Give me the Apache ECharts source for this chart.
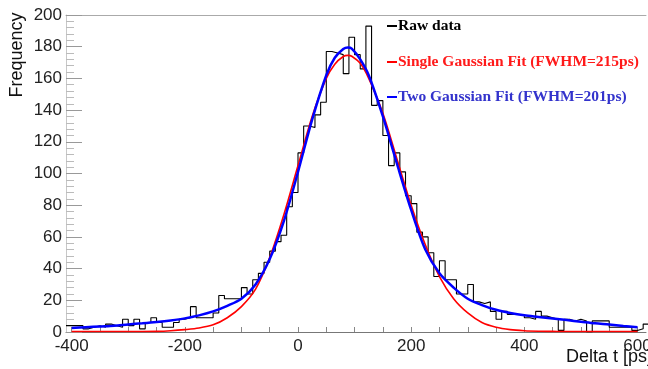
<!DOCTYPE html>
<html><head><meta charset="utf-8">
<script src="https://cdn.jsdelivr.net/npm/echarts@6/dist/echarts.min.js"></script>
<style>html,body{margin:0;padding:0;background:#fff}#c{width:648px;height:369px}</style>
</head><body><div id="c"></div>
<script>
// ---- data ----
const binEdgeStart = -410;
const binWidth = 10;
const histCounts = [
  4,4,4,2,3,4,3,5,4,3,
  8,4,8,2,6,9,6,3,3,6,
  8,9,16,9,9,9,12,23,21,21,
  21,28,24,33,37,44,51,57,61,79,
  88,113,130,129,137,145,177,176,175,163,
  186,175,166,193,143,146,124,105,113,101,
  86,81,63,60,50,35,45,33,33,24,
  24,30,19,18,19,13,8,13,11,11,
  11,9,8,13,10,9,8,1,8,7,
  8,7,0,7,7,7,3,3,3,3,
  1,2,5
];
const fitX = [-400,-375,-350,-325,-300,-275,-250,-225,-200,-175,-150,-125,-100,-75,-50,-25,0,25,50,65,80,88,95,110,125,150,175,200,225,250,275,300,325,350,375,400,425,450,475,500,525,550,575,600];
const singleFit = [0.3,0.3,0.3,0.3,0.3,0.3,0.4,0.8,1.5,2.5,4.5,9,16,27,47,74,105,136,160,169,173.8,174.5,174,169.5,160,138,109,80,55,35,21,12,6,3,1.5,0.8,0.5,0.4,0.3,0.3,0.3,0.3,0.3,0.3];
const doubleFit = [2.5,3,3.5,4,4.8,5.5,6.3,7.3,8.6,10.5,13,16.5,21,30,46,70,101,134,162,173,178.5,179.5,178.8,172,162,136,106,77,52,37,28,21,17,14,12,10.5,9.5,8.5,7.5,6.5,5.5,4.7,3.8,3];
const xLabelValues = [-400,-200,0,200,400,600];
const xTickValues = [-400,-350,-300,-250,-200,-150,-100,-50,0,50,100,150,200,250,300,350,400,450,500,550,600];
const legendLabels = ['Raw data','Single Gaussian Fit (FWHM=215ps)','Two Gaussian Fit (FWHM=201ps)'];
const xTitle = 'Delta t [ps]';
const yTitle = 'Frequency';

// ---- build ----
const histData = histCounts.map((v,i)=>[binEdgeStart + i*binWidth, v]);
histData.push([binEdgeStart + histCounts.length*binWidth, histCounts[histCounts.length-1]]);
const singleData = fitX.map((x,i)=>[x, singleFit[i]]);
const doubleData = fitX.map((x,i)=>[x, doubleFit[i]]);

const chart = echarts.init(document.getElementById('c'), null, {renderer:'canvas'});
const font = '"Liberation Sans", Arial, Helvetica, sans-serif';
const serif = '"Liberation Serif", "Times New Roman", serif';
const legendColors = ['#000000','#ff1a1a','#3333cc'];
const lineColors = ['#000000','#ff0000','#0000ff'];
const legendY = [26, 62, 97];

const graphics = [
  {type:'text', x:17, y:55, rotation:Math.PI/2, style:{text:yTitle, font:'18px '+font, fill:'#111', align:'center', verticalAlign:'middle'}},
  {type:'text', x:652, y:357, style:{text:xTitle, font:'18px '+font, fill:'#111', align:'right', verticalAlign:'middle'}}
];
legendLabels.forEach((t,i)=>{
  graphics.push({type:'line', shape:{x1:387, y1:legendY[i], x2:397, y2:legendY[i]}, style:{stroke:lineColors[i], lineWidth:2}});
  graphics.push({type:'text', x:398, y:legendY[i], style:{text:t, font:'bold 15.5px '+serif, fill:legendColors[i], align:'left', verticalAlign:'middle'}});
});

chart.setOption({
  animation:false,
  backgroundColor:'#fff',
  grid:{left:66, right:2, top:15, bottom:37, containLabel:false, outerBoundsMode:'none'},
  xAxis:[{
    type:'value', min:-410, max:615, position:'bottom',
    axisLine:{show:true, onZero:false, lineStyle:{color:'#777', width:1}},
    axisTick:{show:true, inside:true, length:5, customValues:xTickValues, lineStyle:{color:'#888'}},
    axisLabel:{show:true, customValues:xLabelValues, fontSize:17, color:'#222', fontFamily:font, margin:6},
    splitLine:{show:false}
  },{
    type:'value', min:-410, max:615, position:'top',
    axisLine:{show:true, onZero:false, lineStyle:{color:'#aaa', width:1}},
    axisTick:{show:false}, axisLabel:{show:false}, splitLine:{show:false}
  }],
  yAxis:{
    type:'value', min:0, max:200, interval:20,
    axisLine:{show:true, onZero:false, lineStyle:{color:'#c8c8c8'}},
    axisTick:{show:true, inside:true, length:16, lineStyle:{color:'#999'}},
    minorTick:{show:true, splitNumber:5, length:8, lineStyle:{color:'#bbb'}},
    axisLabel:{fontSize:17, color:'#222', fontFamily:font, margin:4},
    splitLine:{show:false}, minorSplitLine:{show:false}
  },
  series:[
    {type:'line', name:legendLabels[0], data:histData, step:'end', showSymbol:false, symbol:'none',
     lineStyle:{color:'#000', width:1.1}, z:2},
    {type:'line', name:legendLabels[1], data:singleData, smooth:0.3, showSymbol:false, symbol:'none',
     lineStyle:{color:'#ff0000', width:1.6}, z:3},
    {type:'line', name:legendLabels[2], data:doubleData, smooth:0.3, showSymbol:false, symbol:'none',
     lineStyle:{color:'#0000ff', width:2.5}, z:4}
  ],
  graphic:graphics
});
</script>
</body></html>
